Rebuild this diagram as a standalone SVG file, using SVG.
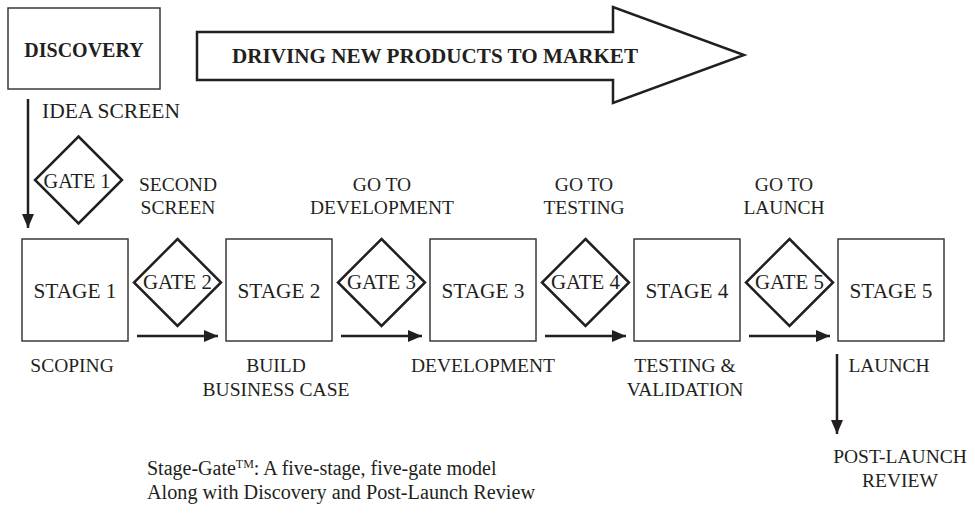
<svg xmlns="http://www.w3.org/2000/svg" width="975" height="517" viewBox="0 0 975 517">
  <style>
    text { font-family: "Liberation Serif", "Times New Roman", serif; fill: #231f20; }
    .lbl { font-size: 19.5px; text-anchor: middle; }
    .bold { font-weight: bold; font-size: 20px; }
    .stage rect { fill: #fff; stroke: #3a3a3a; stroke-width: 1.5; }
    .stage text { font-size: 20.5px; text-anchor: middle; }
    .gate polygon { fill: #fff; stroke: #231f20; stroke-width: 2.5; stroke-linejoin: miter; }
    .gate text { font-size: 20.5px; text-anchor: middle; }
    .conn line { stroke: #231f20; stroke-width: 2.5; }
    .cap { font-size: 20px; }
  </style>
  <defs>
    <marker id="head" markerUnits="userSpaceOnUse" markerWidth="15" markerHeight="13" refX="14" refY="6" orient="auto">
      <path d="M0,0 L14,6 L0,12 z" fill="#231f20"/>
    </marker>
  </defs>
  <rect width="975" height="517" fill="#fff"/>

  <!-- Discovery -->
  <g id="discovery">
    <rect x="8" y="8" width="152" height="81" fill="#fff" stroke="#3a3a3a" stroke-width="1.5"/>
    <text class="bold" x="84" y="57" text-anchor="middle">DISCOVERY</text>
  </g>

  <!-- Banner arrow -->
  <g id="banner">
    <polygon points="197,32 613,32 613,7 744,55 613,103 613,80 197,80" fill="#fff" stroke="#231f20" stroke-width="2.5"/>
    <text class="bold" x="232" y="63" textLength="406" lengthAdjust="spacingAndGlyphs">DRIVING NEW PRODUCTS TO MARKET</text>
  </g>

  <text id="idea-screen" x="42" y="118" font-size="21" textLength="138" lengthAdjust="spacingAndGlyphs">IDEA SCREEN</text>

  <!-- Connectors -->
  <g id="connectors" class="conn">
    <line x1="28" y1="99" x2="28" y2="228" marker-end="url(#head)"/>
    <line x1="137" y1="336" x2="218" y2="336" marker-end="url(#head)"/>
    <line x1="341" y1="336" x2="422" y2="336" marker-end="url(#head)"/>
    <line x1="545" y1="336" x2="626" y2="336" marker-end="url(#head)"/>
    <line x1="749" y1="336" x2="830" y2="336" marker-end="url(#head)"/>
    <line x1="837" y1="354" x2="837" y2="434" marker-end="url(#head)"/>
  </g>

  <!-- Gates -->
  <g id="gate1" class="gate">
    <polygon points="78.5,136.5 122,180 78.5,223.5 35,180"/>
    <text x="77" y="188" textLength="67" lengthAdjust="spacingAndGlyphs">GATE 1</text>
  </g>
  <g id="gate2" class="gate">
    <polygon points="177.5,239 221,282.5 177.5,326 134,282.5"/>
    <text x="177.5" y="289" textLength="69" lengthAdjust="spacingAndGlyphs">GATE 2</text>
  </g>
  <g id="gate3" class="gate">
    <polygon points="381.5,239 425,282.5 381.5,326 338,282.5"/>
    <text x="381.5" y="289" textLength="69" lengthAdjust="spacingAndGlyphs">GATE 3</text>
  </g>
  <g id="gate4" class="gate">
    <polygon points="585.5,239 629,282.5 585.5,326 542,282.5"/>
    <text x="585.5" y="289" textLength="69" lengthAdjust="spacingAndGlyphs">GATE 4</text>
  </g>
  <g id="gate5" class="gate">
    <polygon points="789.5,239 833,282.5 789.5,326 746,282.5"/>
    <text x="789.5" y="289" textLength="69" lengthAdjust="spacingAndGlyphs">GATE 5</text>
  </g>

  <!-- Stages -->
  <g id="stage1" class="stage">
    <rect x="22" y="239" width="106" height="102"/>
    <text x="75" y="298" textLength="83" lengthAdjust="spacingAndGlyphs">STAGE 1</text>
  </g>
  <g id="stage2" class="stage">
    <rect x="226" y="239" width="106" height="102"/>
    <text x="279" y="298" textLength="83" lengthAdjust="spacingAndGlyphs">STAGE 2</text>
  </g>
  <g id="stage3" class="stage">
    <rect x="430" y="239" width="106" height="102"/>
    <text x="483" y="298" textLength="83" lengthAdjust="spacingAndGlyphs">STAGE 3</text>
  </g>
  <g id="stage4" class="stage">
    <rect x="634" y="239" width="106" height="102"/>
    <text x="687" y="298" textLength="83" lengthAdjust="spacingAndGlyphs">STAGE 4</text>
  </g>
  <g id="stage5" class="stage">
    <rect x="838" y="239" width="106" height="102"/>
    <text x="891" y="298" textLength="83" lengthAdjust="spacingAndGlyphs">STAGE 5</text>
  </g>

  <!-- Gate decisions -->
  <text class="lbl" x="178" y="191">SECOND</text>
  <text class="lbl" x="178" y="214">SCREEN</text>
  <text class="lbl" x="382" y="191">GO TO</text>
  <text class="lbl" x="382" y="214">DEVELOPMENT</text>
  <text class="lbl" x="584" y="191">GO TO</text>
  <text class="lbl" x="584" y="214">TESTING</text>
  <text class="lbl" x="784" y="191">GO TO</text>
  <text class="lbl" x="784" y="214">LAUNCH</text>

  <!-- Stage activities -->
  <text class="lbl" x="72" y="372">SCOPING</text>
  <text class="lbl" x="276" y="372">BUILD</text>
  <text class="lbl" x="276" y="396">BUSINESS CASE</text>
  <text class="lbl" x="483" y="372">DEVELOPMENT</text>
  <text class="lbl" x="685" y="372">TESTING &amp;</text>
  <text class="lbl" x="685" y="396">VALIDATION</text>
  <text class="lbl" x="889" y="372">LAUNCH</text>
  <text class="lbl" x="900" y="463">POST-LAUNCH</text>
  <text class="lbl" x="900" y="487">REVIEW</text>

  <!-- Caption -->
  <text class="cap" x="147" y="475">Stage-Gate<tspan font-size="12" dy="-7">TM</tspan><tspan dy="7">: A five-stage, five-gate model</tspan></text>
  <text class="cap" x="147" y="499" textLength="388" lengthAdjust="spacingAndGlyphs">Along with Discovery and Post-Launch Review</text>
</svg>
